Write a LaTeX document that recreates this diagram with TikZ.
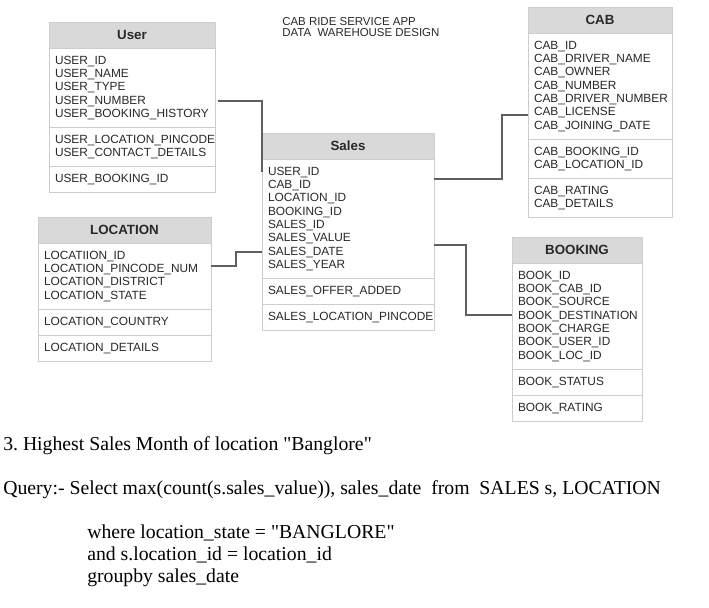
\documentclass[tikz,border=0pt]{standalone}
\usepackage{fontspec}
\setsansfont{Liberation Sans}
\newfontfamily\queryfont{Liberation Serif}
\usetikzlibrary{positioning}

\definecolor{boxline}{RGB}{205,205,205}
\definecolor{hdrfill}{RGB}{217,217,217}
\definecolor{linkgray}{RGB}{95,95,95}
\definecolor{txtgray}{RGB}{40,40,40}

\newcommand{\fieldfont}{\sffamily\fontsize{8.9}{10}\selectfont\hyphenpenalty=10000\relax}
\newcommand{\fstrut}{\rule[-2.6pt]{0pt}{10pt}}
\frenchspacing

\begin{document}
\begin{tikzpicture}[x=0.75pt,y=0.75pt,yscale=-1,xscale=1,
  hdr/.style={draw=boxline, line width=0.6pt, fill=hdrfill, outer sep=0pt, minimum height=19.5pt,
    anchor=north west, text=txtgray, font=\sffamily\bfseries\fontsize{10}{12}\selectfont},
  sect/.style={draw=boxline, line width=0.6pt, fill=white, outer sep=0pt, inner xsep=4.5pt, inner ysep=4.75pt,
    align=left, text=txtgray, font=\fieldfont, execute at begin node=\fstrut, execute at end node=\fstrut},
  link/.style={draw=linkgray, line width=1.1pt},
  qtext/.style={anchor=base west, inner sep=0pt, font=\queryfont\fontsize{14.8}{17}\selectfont}]
\useasboundingbox (0,0) rectangle (709,607);

% Text Node
\node[anchor=base west, inner sep=0pt, text=txtgray, font=\sffamily\fontsize{8.6}{10}\selectfont] (title1) at (282,25) {CAB RIDE SERVICE APP};
% Text Node
\node[anchor=base west, inner sep=0pt, text=txtgray, font=\sffamily\fontsize{8.6}{10}\selectfont] (title2) at (282,36) {DATA\ \ WAREHOUSE DESIGN};

%Table: User
\node[hdr, minimum width=124.5pt] (userh) at (49,22) {User};
\node[sect, text width=115.5pt, below=0pt of userh] (user1) {USER\_ID\\USER\_NAME\\USER\_TYPE\\USER\_NUMBER\\USER\_BOOKING\_HISTORY};
\node[sect, text width=115.5pt, below=0pt of user1] (user2) {USER\_LOCATION\_PINCODE\\USER\_CONTACT\_DETAILS};
\node[sect, text width=115.5pt, below=0pt of user2] (user3) {USER\_BOOKING\_ID};

%Table: Location
\node[hdr, minimum width=129.75pt] (loch) at (38,217) {LOCATION};
\node[sect, text width=120.75pt, below=0pt of loch] (loc1) {LOCATIION\_ID\\LOCATION\_PINCODE\_NUM\\LOCATION\_DISTRICT\\LOCATION\_STATE};
\node[sect, text width=120.75pt, below=0pt of loc1] (loc2) {LOCATION\_COUNTRY};
\node[sect, text width=120.75pt, below=0pt of loc2] (loc3) {LOCATION\_DETAILS};

%Table: Sales
\node[hdr, minimum width=129pt] (salesh) at (262,133) {Sales};
\node[sect, text width=120pt, below=0pt of salesh] (sales1) {USER\_ID\\CAB\_ID\\LOCATION\_ID\\BOOKING\_ID\\SALES\_ID\\SALES\_VALUE\\SALES\_DATE\\SALES\_YEAR};
\node[sect, text width=120pt, below=0pt of sales1] (sales2) {SALES\_OFFER\_ADDED};
\node[sect, text width=120pt, below=0pt of sales2] (sales3) {SALES\_LOCATION\_PINCODE};

%Table: CAB
\node[hdr, minimum width=108pt] (cabh) at (528,7) {CAB};
\node[sect, text width=99pt, below=0pt of cabh] (cab1) {CAB\_ID\\CAB\_DRIVER\_NAME\\CAB\_OWNER\\CAB\_NUMBER\\CAB\_DRIVER\_NUMBER\\CAB\_LICENSE\\CAB\_JOINING\_DATE};
\node[sect, text width=99pt, below=0pt of cab1] (cab2) {CAB\_BOOKING\_ID\\CAB\_LOCATION\_ID};
\node[sect, text width=99pt, below=0pt of cab2] (cab3) {CAB\_RATING\\CAB\_DETAILS};

%Table: Booking
\node[hdr, minimum width=97.5pt] (bookh) at (512,237) {BOOKING};
\node[sect, text width=88.5pt, below=0pt of bookh] (book1) {BOOK\_ID\\BOOK\_CAB\_ID\\BOOK\_SOURCE\\BOOK\_DESTINATION\\BOOK\_CHARGE\\BOOK\_USER\_ID\\BOOK\_LOC\_ID};
\node[sect, text width=88.5pt, below=0pt of book1] (book2) {BOOK\_STATUS};
\node[sect, text width=88.5pt, below=0pt of book2] (book3) {BOOK\_RATING};

%Straight Lines
\draw[link] ([xshift=2pt]user1.east |- 0,101) -| (sales1.west |- 0,172);
\draw[link] (loc1.east |- 0,266) -- ++(25,0) |- (sales1.west |- 0,252);
\draw[link] (sales1.east |- 0,179) -- ++(68,0) |- (cab1.west |- 0,115);
\draw[link] (sales1.east |- 0,245) -- ++(32,0) |- (book1.west |- 0,315);

% Text Node
\node[qtext] (q1) at (3,450) {3. Highest Sales Month of location "Banglore"};
% Text Node
\node[qtext] (q2) at (3,494) {Query:- Select max(count(s.sales\_value)), sales\_date\ \ from\ \ SALES s, LOCATION};
% Text Node
\node[qtext] (q3) at (87,538) {where location\_state = "BANGLORE"};
% Text Node
\node[qtext] (q4) at (87,560) {and s.location\_id = location\_id};
% Text Node
\node[qtext] (q5) at (87,582) {groupby sales\_date};

\end{tikzpicture}
\end{document}
